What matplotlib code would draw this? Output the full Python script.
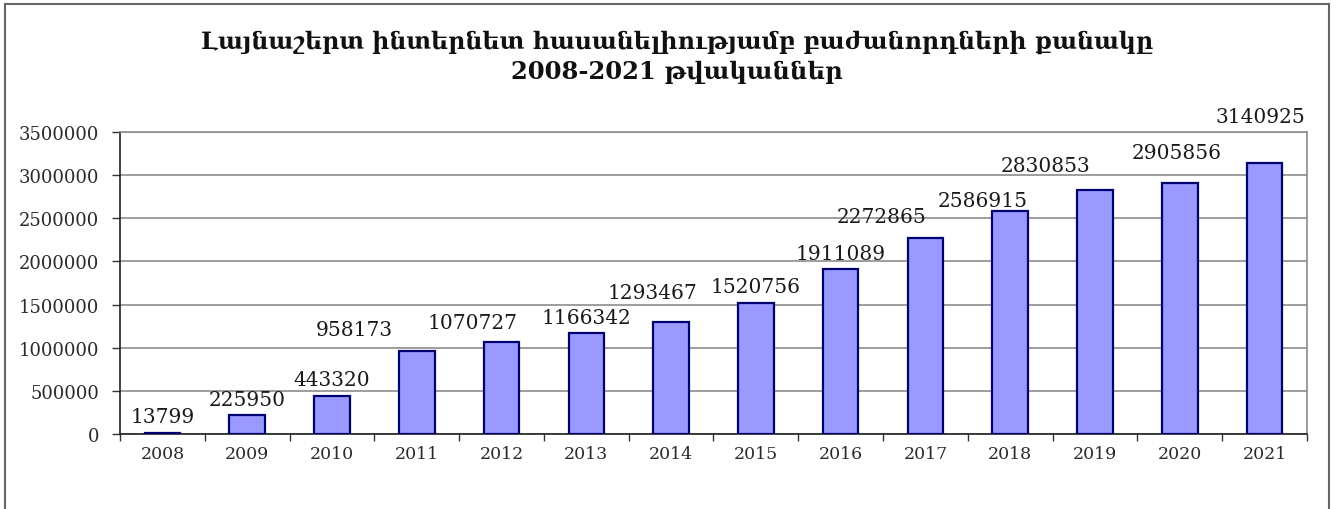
import numpy as np
import matplotlib.pyplot as plt
from matplotlib.lines import Line2D

# 数据
years = ['2008', '2009', '2010', '2011', '2012', '2013', '2014',
         '2015', '2016', '2017', '2018', '2019', '2020', '2021']
subscribers = [13799, 225950, 443320, 958173, 1070727, 1166342, 1293467,
               1520756, 1911089, 2272865, 2586915, 2830853, 2905856, 3140925]

title_line1 = 'Լայնաշերտ ինտերնետ հասանելիությամբ բաժանորդների քանակը'
title_line2 = '2008-2021 թվականներ'

# 标签偏移(像素)，原图标签是手动拖动过的
label_dx = [0, 0, 0, -62, -29, 0, -19, 0, 0, -44, -28, -49, -3, -4]
label_dy = [16, 15, 16, 22, 19, 16, 30, 16, 16, 21, 10, 24, 31, 46]

W, H = 1338, 510
fig = plt.figure(figsize=(W / 100, H / 100), dpi=100)
ax = fig.add_axes([120 / W, 1 - 435 / H, (1307 - 120) / W, (435 - 133) / H])

x = np.arange(len(years))
ax.bar(x, subscribers, width=0.42, color='#9999ff', edgecolor='#000070',
       linewidth=1.6, zorder=3)

serif = ['DejaVu Serif', 'DejaVu Sans']
px = 0.72  # 像素 -> 点
for i, v in enumerate(subscribers):
    ax.annotate(str(v), xy=(x[i], v), xytext=(label_dx[i] * px, label_dy[i] * px),
                textcoords='offset points', ha='center', va='center',
                fontsize=14.5, family=serif, color='#1a1a1a', zorder=4)

ax.set_xlim(-0.5, len(years) - 0.5)
ax.set_ylim(0, 3500000)
ax.set_yticks(np.arange(0, 3500001, 500000))
ax.set_yticklabels([str(v) for v in np.arange(0, 3500001, 500000)],
                   family=serif, fontsize=13, color='#2a2a2a')
ax.set_xticks(x)
ax.set_xticklabels(years, family=serif, fontsize=12.5, color='#2a2a2a')
ax.set_xticks(np.arange(-0.5, len(years), 1), minor=True)
ax.tick_params(axis='x', which='major', length=0, pad=8)
ax.tick_params(axis='x', which='minor', length=5, width=1, color='#333333')
ax.tick_params(axis='y', length=6, width=1, color='#333333', pad=9)

ax.grid(axis='y', color='#8c8c8c', linewidth=1.2, zorder=0)
ax.spines['left'].set_color('#222222')
ax.spines['bottom'].set_color('#222222')
ax.spines['top'].set_color('#8c8c8c')
ax.spines['right'].set_color('#8c8c8c')
for s in ax.spines.values():
    s.set_linewidth(1.2)

fig.text(677 / W, 1 - 42 / H, title_line1, ha='center', va='center',
         fontsize=17, fontweight='bold', family=serif, color='#111111')
fig.text(677 / W, 1 - 72 / H, title_line2, ha='center', va='center',
         fontsize=17.5, fontweight='bold', family=serif, color='#111111')

# 外框
frame_c = '#666666'
fig.add_artist(Line2D([5 / W, 5 / W], [0, 1 - 5 / H], color=frame_c, linewidth=1.5))
fig.add_artist(Line2D([5 / W, 1329 / W], [1 - 5 / H, 1 - 5 / H], color=frame_c, linewidth=1.5))
fig.add_artist(Line2D([1329 / W, 1329 / W], [0, 1 - 5 / H], color=frame_c, linewidth=1.5))

fig.savefig('out.png', dpi=100)
